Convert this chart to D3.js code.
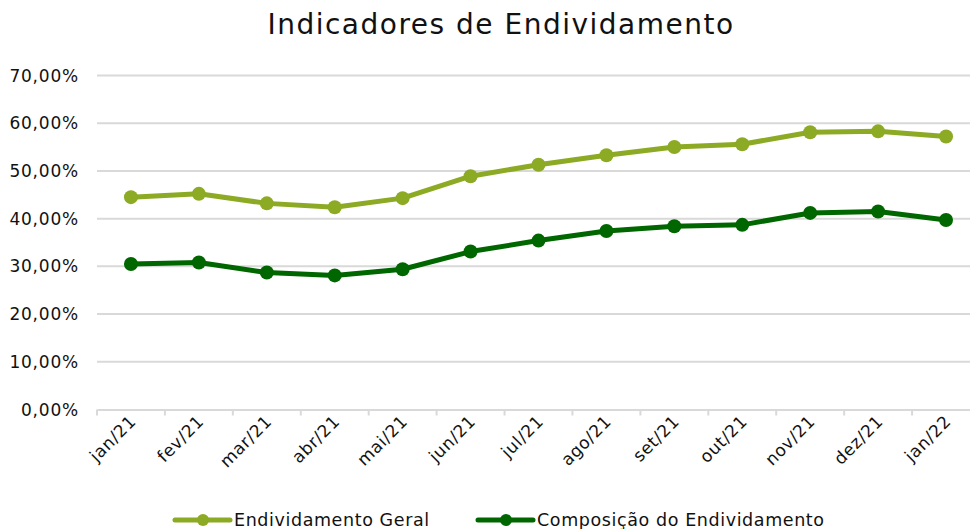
<!DOCTYPE html>
<html>
<head>
<meta charset="utf-8">
<script src="https://cdn.jsdelivr.net/npm/d3@7"></script>
<style>
  body { margin: 0; background: #fff; }
  svg { display: block; font-family: "DejaVu Sans", sans-serif; }
</style>
</head>
<body>
<svg id="chart" width="970" height="529"></svg>
<script>
(function() {

    var months = ['jan/21', 'fev/21', 'mar/21', 'abr/21', 'mai/21', 'jun/21', 'jul/21',
                  'ago/21', 'set/21', 'out/21', 'nov/21', 'dez/21', 'jan/22'];
    var geral = [44.5, 45.2, 43.2, 42.4, 44.3, 48.9, 51.3, 53.3, 55.0, 55.6, 58.1, 58.3, 57.2];
    var composicao = [30.5, 30.8, 28.7, 28.1, 29.4, 33.1, 35.4, 37.4, 38.4, 38.7, 41.2, 41.5, 39.7];
    var yTicks = [0, 10, 20, 30, 40, 50, 60, 70];

    var series = [
        { name: 'Endividamento Geral', values: geral, color: '#8CAA24' },
        { name: 'Composição do Endividamento', values: composicao, color: '#006600' }
    ];

    var left = 97, right = 980, top = 75.5, bottom = 409.5; // plot area

    var svg = d3.select('#chart');

    var x = d3.scaleBand().domain(months).range([left, right]);
    var y = d3.scaleLinear().domain([0, 70]).range([bottom, top]);

    // title
    svg.append('text')
        .attr('x', 501)
        .attr('y', 34)
        .attr('text-anchor', 'middle')
        .attr('font-size', 28)
        .attr('letter-spacing', 1.5)
        .attr('fill', '#111')
        .text('Indicadores de Endividamento');

    // gridlines
    svg.append('g')
        .selectAll('line')
        .data(yTicks.filter(function(d) { return d > 0; }))
        .enter()
        .append('line')
        .attr('x1', left)
        .attr('x2', right)
        .attr('y1', function(d) { return y(d); })
        .attr('y2', function(d) { return y(d); })
        .attr('stroke', '#d9d9d9')
        .attr('stroke-width', 2);

    // y labels
    svg.append('g')
        .selectAll('text')
        .data(yTicks)
        .enter()
        .append('text')
        .attr('x', 79)
        .attr('y', function(d) { return y(d) + 6; })
        .attr('text-anchor', 'end')
        .attr('font-size', 17)
        .attr('letter-spacing', 0.8)
        .attr('fill', '#111')
        .text(function(d) { return d3.format('.2f')(d).replace('.', ',') + '%'; });

    // x axis
    var xAxis = d3.axisBottom(x).tickSize(0).tickFormat('');
    var gx = svg.append('g')
        .attr('transform', 'translate(0,' + bottom + ')')
        .call(xAxis);
    gx.select('.domain').attr('stroke', '#d9d9d9').attr('stroke-width', 2);

    var edges = months.map(function(m) { return x(m); }).concat([right]);
    gx.selectAll('line.edge')
        .data(edges)
        .enter()
        .append('line')
        .attr('class', 'edge')
        .attr('x1', function(d) { return d; })
        .attr('x2', function(d) { return d; })
        .attr('y1', 0)
        .attr('y2', 6)
        .attr('stroke', '#d9d9d9')
        .attr('stroke-width', 2);

    svg.append('g')
        .selectAll('text')
        .data(months)
        .enter()
        .append('text')
        .attr('transform', function(d) {
            return 'translate(' + (x(d) + x.bandwidth() / 2 + 6) + ',' + (bottom + 13) + ') rotate(-45)';
        })
        .attr('text-anchor', 'end')
        .attr('font-size', 17)
        .attr('letter-spacing', 0.6)
        .attr('fill', '#111')
        .text(function(d) { return d; });

    // lines
    var line = d3.line()
        .x(function(d, i) { return x(months[i]) + x.bandwidth() / 2; })
        .y(function(d) { return y(d); });

    series.forEach(function(s) {
        var g = svg.append('g');
        g.append('path')
            .datum(s.values)
            .attr('d', line)
            .attr('fill', 'none')
            .attr('stroke', s.color)
            .attr('stroke-width', 5)
            .attr('stroke-linejoin', 'round');
        g.selectAll('circle')
            .data(s.values)
            .enter()
            .append('circle')
            .attr('cx', function(d, i) { return x(months[i]) + x.bandwidth() / 2; })
            .attr('cy', function(d) { return y(d); })
            .attr('r', 7)
            .attr('fill', s.color);
    });

    // legend
    var legendX = [175, 478];
    var lg = svg.append('g')
        .selectAll('g')
        .data(series)
        .enter()
        .append('g')
        .attr('transform', function(d, i) { return 'translate(' + legendX[i] + ',520)'; });
    lg.append('line')
        .attr('x1', 0).attr('x2', 55)
        .attr('stroke', function(d) { return d.color; })
        .attr('stroke-width', 5)
        .attr('stroke-linecap', 'round');
    lg.append('circle')
        .attr('cx', 28)
        .attr('r', 6)
        .attr('fill', function(d) { return d.color; });
    lg.append('text')
        .attr('x', 59)
        .attr('y', 6)
        .attr('font-size', 17.5)
        .attr('letter-spacing', 0.6)
        .attr('fill', '#111')
        .text(function(d) { return d.name; });

})();
</script>
</body>
</html>
